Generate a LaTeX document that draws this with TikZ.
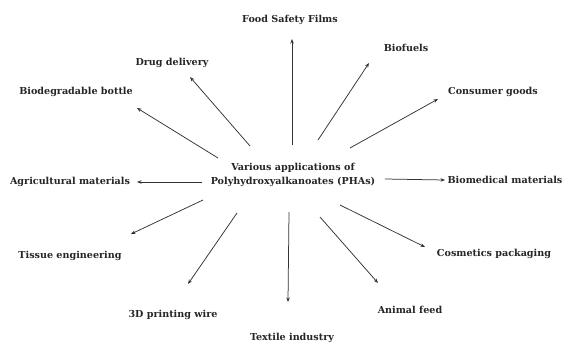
\documentclass[tikz,border=0pt]{standalone}
\usepackage{fontspec}
\setmainfont{DejaVu Serif}
\usetikzlibrary{arrows.meta}

\begin{document}
\begin{tikzpicture}[x=1pt,y=-1pt,
    app/.style={font=\bfseries\fontsize{9.6}{14}\selectfont,text=black!85,inner sep=1pt}]
    \useasboundingbox[fill=white] (0,0) rectangle (568,349);

    \node[app,align=center] (hub) at (293,175) {Various applications of\\Polyhydroxyalkanoates (PHAs)};

    \node[app] (food) at (290,20) {Food Safety Films};
    \node[app] (biofuel) at (406,48) {Biofuels};
    \node[app] (consumer) at (493,92) {Consumer goods};
    \node[app] (drug) at (172,63) {Drug delivery};
    \node[app] (bottle) at (76,92) {Biodegradable bottle};
    \node[app] (agri) at (70,182) {Agricultural materials};
    \node[app] (biomed) at (505,180) {Biomedical materials};
    \node[app] (tissue) at (70,256) {Tissue engineering};
    \node[app] (cosmetic) at (494,254) {Cosmetics packaging};
    \node[app] (print) at (173,315) {3D printing wire};
    \node[app] (textile) at (292,338) {Textile industry};
    \node[app] (feed) at (410,310) {Animal feed};

    % tails round the hub
    \coordinate (food-t) at (292,145);
    \coordinate (biofuel-t) at (318,140);
    \coordinate (consumer-t) at (350,148);
    \coordinate (drug-t) at (250,146);
    \coordinate (bottle-t) at (218,158);
    \coordinate (agri-t) at (202,182);
    \coordinate (biomed-t) at (385,179);
    \coordinate (tissue-t) at (203,200);
    \coordinate (cosmetic-t) at (340,205);
    \coordinate (print-t) at (237,213);
    \coordinate (textile-t) at (289,212);
    \coordinate (feed-t) at (320,217);

    % tips next to the labels
    \coordinate (food-h) at (292,39);
    \coordinate (biofuel-h) at (369,63);
    \coordinate (consumer-h) at (438,99);
    \coordinate (drug-h) at (190,77);
    \coordinate (bottle-h) at (137,108);
    \coordinate (agri-h) at (137,182);
    \coordinate (biomed-h) at (445,180);
    \coordinate (tissue-h) at (131,234);
    \coordinate (cosmetic-h) at (425,247);
    \coordinate (print-h) at (188,284);
    \coordinate (textile-h) at (288,302);
    \coordinate (feed-h) at (378,283);

    \foreach \n in {food,biofuel,consumer,drug,bottle,agri,biomed,tissue,cosmetic,print,textile,feed}
        \draw[-{Stealth[length=4.5pt,width=3.5pt]},black!80,line width=0.75pt] (\n-t) -- (\n-h);
\end{tikzpicture}
\end{document}
